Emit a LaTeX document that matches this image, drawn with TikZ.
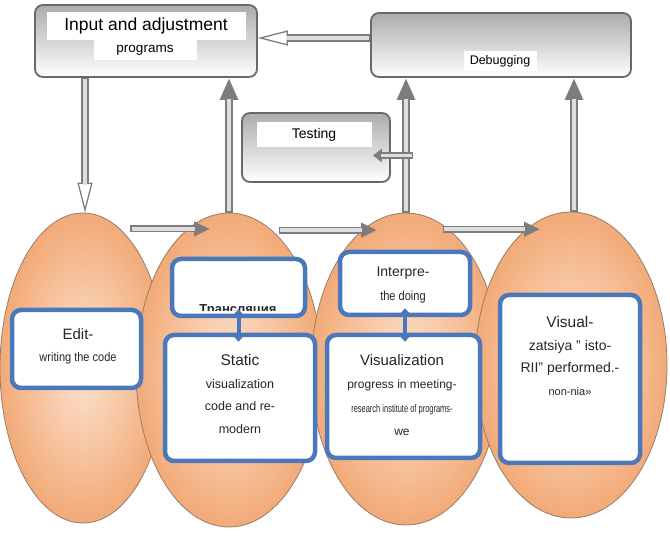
\documentclass[tikz,border=0pt]{standalone}
\usepackage{fontspec}
\setmainfont{Liberation Sans}
\usepackage{graphicx}
\usetikzlibrary{arrows.meta,positioning,shapes.geometric}
\definecolor{durazno}{RGB}{242,170,120}
\definecolor{duraznoc}{RGB}{252,228,208}
\definecolor{borde}{RGB}{150,125,105}
\definecolor{azul}{RGB}{74,120,186}
\definecolor{grisf}{RGB}{105,105,105}
\definecolor{grisc}{RGB}{222,222,222}
\definecolor{grism}{RGB}{125,125,125}
\newcommand{\tam}[2]{\fontsize{#1}{#2}\selectfont}
\tikzset{
  fase/.style={ellipse, draw=borde, line width=0.8pt, inner sep=0pt, inner color=duraznoc, outer color=durazno},
  marco/.style={draw=azul, line width=4.5pt, rounded corners=9pt, fill=white, inner sep=0pt},
  panel/.style={draw=grisf, line width=1.8pt, rounded corners=8pt, top color=gray!65, bottom color=white, inner sep=0pt},
  rotulo/.style={fill=white, inner sep=0pt, text=black},
  txt/.style={align=center, text=black!85, inner sep=0pt},
  tubo/.style={line width=8pt, draw=grism, -{Triangle[length=22pt,width=17pt]},
    postaction={draw=grisc, line width=4.5pt, -, shorten >=21pt, shorten <=1.5pt}},
  tuboh/.style={line width=7pt, draw=grism, -{Triangle[length=16pt,width=14pt]},
    postaction={draw=grisc, line width=3.6pt, -, shorten >=15pt, shorten <=1.5pt}},
  tuboab/.style={line width=8pt, draw=grism, -{Triangle[length=30pt,width=15pt,fill=white,line width=1.3pt]},
    postaction={draw=grisc, line width=4.5pt, -, shorten >=28pt, shorten <=1.5pt}},
  tubochico/.style={line width=7pt, draw=grism, -{Triangle[length=9pt,width=13pt]},
    postaction={draw=grisc, line width=3.6pt, -, shorten >=8pt, shorten <=1pt}},
  enlace/.style={line width=4pt, azul, {Triangle[length=7pt,width=12pt]}-{Triangle[length=7pt,width=12pt]}},
}

\begin{document}
\begin{tikzpicture}[x=1pt,y=-1pt]
  \useasboundingbox (0,0) rectangle (670,537);
  % upper panels
  \node[panel, minimum width=222pt, minimum height=72pt] (inp) at (146,41) {};
  \node[rotulo, minimum width=199pt, minimum height=28pt, font=\tam{17.5}{20}] (inpa) at (146,26) {Input and adjustment};
  \node[rotulo, minimum width=103pt, minimum height=20pt, font=\tam{13.5}{16}] (inpb) at (145,50) {programs};
  \node[panel, minimum width=260pt, minimum height=64pt] (dbg) at (501,45) {};
  \node[rotulo, minimum width=73pt, minimum height=20pt, font=\tam{12.5}{15}] (dbgl) at (500,61) {Debugging};
  \node[panel, minimum width=148pt, minimum height=69pt] (tst) at (316,147.5) {};
  \node[rotulo, minimum width=115pt, minimum height=25pt, font=\tam{14}{16}] (tstl) at (314,134.5) {Testing};

  % phases
  \node[fase, minimum width=166pt, minimum height=310pt] (e1) at (83,368) {};
  \node[fase, minimum width=186pt, minimum height=314pt] (e2) at (229,370) {};
  \node[fase, minimum width=190pt, minimum height=312pt] (e3) at (406,369) {};
  \node[fase, minimum width=192pt, minimum height=306pt] (e4) at (571,365) {};

  % gray connectors
  \draw[tuboab] ([yshift=7pt]dbg.west) -- ([yshift=7pt]dbg.west -| inp.east);
  \draw[tuboab] ([xshift=2pt]inp.south -| e1.north) -- ([xshift=2pt]e1.north);
  \draw[tubo] (e2.north) -- (e2.north |- inp.south);
  \draw[tubo] (e3.north) -- (e3.north |- dbg.south);
  \draw[tubochico] ([xshift=7pt,yshift=-8pt]e3.north |- tst.east) -- ([xshift=-18pt,yshift=-8pt]tst.east);
  \draw[tubo] ([xshift=3pt]e4.north) -- ([xshift=3pt]e4.north |- dbg.south);
  \draw[tuboh] ([xshift=10pt]e1.75) -- ([xshift=-19pt]e1.75 -| e2.north);
  \draw[tuboh] ([xshift=7pt]e2.73) -- ([xshift=-29pt]e2.73 -| e3.north);
  \draw[tuboh] ([xshift=-6pt]e3.73) -- ([xshift=-31pt]e3.73 -| e4.north);

  % blue boxes
  \node[marco, minimum width=129pt, minimum height=78pt] (ed) at (76.5,349) {};
  \node[marco, minimum width=133pt, minimum height=57pt] (tr) at (238.5,287.5) {};
  \node[marco, minimum width=150pt, minimum height=126pt] (st) at (240,398) {};
  \node[marco, minimum width=130pt, minimum height=63pt] (ip) at (405,283.5) {};
  \node[marco, minimum width=153pt, minimum height=123pt] (vi) at (403.5,396.5) {};
  \node[marco, minimum width=140pt, minimum height=168pt] (vz) at (570,379) {};

  % texts
  \node[txt, font=\tam{12.5}{22}] (edt) at (78,346)
    {{\tam{15}{22}Edit-}\\\scalebox{0.88}[1]{writing the code}};
  \begin{scope}
    \clip (tr.north west) rectangle ([yshift=8pt]tr.south east);
    \node[txt, anchor=base, font=\bfseries\tam{13}{15}] (trt) at (238,314) {Трансляция};
  \end{scope}
  \node[txt, font=\tam{12.5}{22.7}] (stt) at (240,394)
    {{\tam{15.5}{22.7}Static}\\visualization\\code and re-\\modern};
  \node[txt, font=\tam{13}{24}] (ipt) at (403,285)
    {{\tam{14}{24}Interpre-}\\\scalebox{0.85}[1]{the doing}};
  \node[txt, font=\tam{12}{23.3}] (vit) at (402,395)
    {{\tam{15}{23.3}Visualization}\\progress in meeting-\\{\tam{11}{23.3}\scalebox{0.68}[1]{research institute of programs-}}\\we};
  \node[txt, font=\tam{14}{22.7}] (vzt) at (570,356)
    {{\tam{15.5}{22.7}Visual-}\\zatsiya " isto-\\RII" performed.-\\{\tam{11}{22.7}non-nia»}};

  % blue links
  \draw[enlace, shorten <=-9pt, shorten >=-9pt] (tr.south) -- (tr.south |- st.north);
  \draw[enlace, shorten <=-9pt, shorten >=-9pt] (ip.south) -- (ip.south |- vi.north);
\end{tikzpicture}
\end{document}
